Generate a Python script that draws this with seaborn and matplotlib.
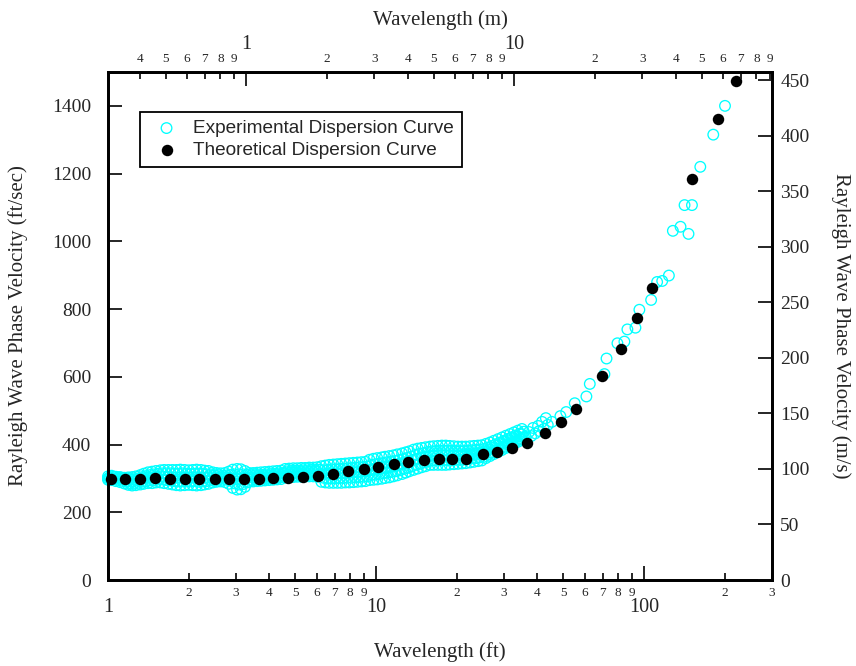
import numpy as np
import pandas as pd
import matplotlib
matplotlib.use('Agg')
import matplotlib.pyplot as plt
import matplotlib.ticker as ticker
import seaborn as sns

# Experimental dispersion curve: dense band at short wavelengths, read as
# several traces across the band (set A and set B sit between each other)
exp_band_wl = [1.00, 1.03, 1.07, 1.11, 1.15, 1.19, 1.23, 1.27, 1.32, 1.36,
               1.41, 1.46, 1.51, 1.57, 1.62, 1.68, 1.74, 1.80, 1.86, 1.93,
               2.00, 2.07, 2.14, 2.22, 2.29, 2.37, 2.46, 2.54, 2.63, 2.73,
               2.82, 2.92, 3.03, 3.13, 3.24, 3.36, 3.48, 3.60, 3.72, 3.85,
               3.99, 4.13, 4.27, 4.42, 4.58, 4.74, 4.91, 5.08, 5.26, 5.44,
               5.63, 5.83, 6.03, 6.25, 6.47, 6.69, 6.93, 7.17, 7.42, 7.68,
               7.95, 8.23, 8.52, 8.82, 9.13, 9.45, 9.78, 10.1, 10.5, 10.8,
               11.2, 11.6, 12.0, 12.5, 12.9, 13.3, 13.8, 14.3, 14.8, 15.3,
               15.9, 16.4, 17.0, 17.6, 18.2, 18.8, 19.5, 20.2, 20.9, 21.6,
               22.4, 23.2, 24.0, 24.8, 25.7, 26.6, 27.5, 28.5, 29.5, 30.5,
               31.6, 32.7, 33.8, 35.0]
exp_band_upper = [306, 308, 305, 304, 302, 303, 304, 306, 310, 314,
                  318, 320, 322, 324, 325, 325, 325, 325, 326, 325,
                  324, 325, 326, 325, 323, 322, 318, 316, 315, 316,
                  320, 326, 328, 327, 322, 316, 316, 317, 318, 319,
                  320, 321, 322, 323, 328, 329, 330, 330, 331, 331,
                  332, 332, 333, 336, 338, 340, 341, 342, 343, 344,
                  345, 346, 347, 348, 349, 355, 358, 360, 362, 364,
                  366, 368, 371, 374, 377, 380, 385, 388, 390, 392,
                  394, 395, 396, 397, 397, 396, 395, 394, 394, 394,
                  395, 396, 397, 398, 402, 406, 411, 416, 421, 426,
                  431, 436, 441, 446]
exp_band_mid = [300, 301, 300, 298, 296, 292, 292, 294, 297, 300,
                302, 303, 305, 306, 305, 304, 303, 302, 303, 302,
                302, 303, 302, 302, 302, 303, 303, 303, 302, 302,
                302, 299, 297, 298, 300, 303, 303, 304, 305, 306,
                307, 308, 309, 310, 315, 316, 317, 317, 318, 318,
                319, 319, 319, 313, 313, 314, 314, 315, 315, 316,
                317, 318, 319, 320, 321, 325, 327, 329, 331, 333,
                335, 337, 340, 343, 346, 349, 355, 358, 361, 364,
                366, 367, 368, 368, 368, 368, 368, 368, 369, 370,
                371, 372, 374, 376, 381, 386, 391, 397, 402, 408,
                413, 419, 424, 430]
exp_band_lower = [296, 295, 292, 289, 285, 281, 279, 280, 282, 284,
                  286, 286, 288, 288, 286, 284, 282, 280, 279, 280,
                  281, 280, 279, 280, 282, 284, 288, 290, 291, 289,
                  284, 272, 267, 268, 275, 290, 291, 292, 293, 294,
                  295, 296, 297, 298, 303, 304, 304, 305, 305, 306,
                  306, 306, 305, 290, 288, 287, 287, 287, 287, 288,
                  288, 289, 290, 291, 292, 295, 296, 297, 299, 301,
                  303, 306, 309, 313, 317, 321, 325, 329, 333, 336,
                  340, 340, 340, 340, 340, 341, 342, 343, 344, 345,
                  347, 349, 351, 353, 360, 366, 372, 378, 384, 390,
                  396, 402, 408, 414]

exp_band_wl_b = [1.015, 1.05, 1.09, 1.13, 1.17, 1.21, 1.25, 1.295, 1.34, 1.385,
                 1.435, 1.485, 1.54, 1.595, 1.65, 1.71, 1.77, 1.83, 1.895, 1.965,
                 2.035, 2.105, 2.18, 2.255, 2.33, 2.415, 2.50, 2.585, 2.68, 2.775,
                 2.87, 2.975, 3.08, 3.185, 3.30, 3.42, 3.54, 3.66, 3.785, 3.92,
                 4.06, 4.20, 4.345, 4.50, 4.66, 4.825, 4.995, 5.17, 5.35, 5.535,
                 5.73, 5.93, 6.14, 6.36, 6.58, 6.81, 7.05, 7.295, 7.55, 7.815,
                 8.09, 8.375, 8.67, 8.975, 9.29, 9.615, 9.94, 10.3, 10.65, 11.0,
                 11.4, 11.8, 12.25, 12.7, 13.1, 13.55, 14.05, 14.55, 15.05, 15.6,
                 16.15, 16.7, 17.3, 17.9, 18.5, 19.15, 19.85, 20.55, 21.25, 22.0,
                 22.8, 23.6, 24.4, 25.25, 26.15, 27.05, 28.0, 29.0, 30.0, 31.05,
                 32.15, 33.25, 34.4, 35.6]
exp_band_upper_b = [303, 305, 303, 301, 299, 298, 298, 300, 304, 307,
                    310, 312, 314, 315, 315, 315, 314, 314, 315, 314,
                    313, 314, 314, 314, 312, 312, 310, 310, 308, 309,
                    311, 312, 312, 312, 311, 310, 310, 310, 311, 312,
                    313, 314, 315, 316, 321, 322, 323, 323, 324, 324,
                    325, 325, 326, 324, 325, 327, 327, 328, 329, 330,
                    331, 332, 333, 334, 335, 340, 342, 344, 346, 348,
                    350, 352, 355, 358, 361, 364, 370, 373, 375, 378,
                    380, 381, 382, 382, 382, 382, 381, 381, 381, 382,
                    383, 384, 385, 387, 391, 396, 401, 406, 411, 417,
                    422, 427, 432, 438]
exp_band_lower_b = [298, 298, 296, 293, 290, 286, 285, 287, 290, 292,
                    294, 294, 297, 297, 295, 294, 292, 291, 291, 291,
                    291, 292, 290, 291, 292, 294, 296, 296, 296, 296,
                    293, 285, 282, 283, 288, 296, 297, 298, 299, 300,
                    301, 302, 303, 304, 309, 310, 310, 311, 311, 312,
                    312, 312, 312, 302, 300, 300, 300, 301, 301, 302,
                    302, 303, 304, 305, 306, 310, 311, 313, 315, 317,
                    319, 321, 324, 328, 331, 335, 340, 343, 347, 350,
                    353, 353, 354, 354, 354, 354, 355, 355, 356, 357,
                    359, 360, 362, 364, 370, 376, 381, 387, 393, 399,
                    404, 410, 416, 422]

# Experimental dispersion curve: scattered points at long wavelengths
exp_tail_wl = [36.2, 37.2, 37.9, 38.5, 39.25, 40.2, 40.6, 41.6, 42.2, 43.0,
               43.7, 45.3, 48.7, 51.2, 55.1, 60.9, 62.7, 71.1, 72.4, 79.5,
               84.4, 86.6, 92.8, 96.0, 106.2, 111.8, 116.8, 123.7, 128.0, 136.7,
               141.5, 146.4, 150.8, 162.0, 181.1, 200.3]
exp_tail_vel = [422, 437, 425, 449, 433, 455, 440, 467, 446, 478,
                458, 467, 484, 496, 522, 542, 579, 608, 654, 699,
                704, 740, 745, 798, 827, 880, 883, 899, 1031, 1043,
                1107, 1022, 1107, 1220, 1315, 1400]

# Theoretical dispersion curve
theo_wl = [1.03, 1.16, 1.32, 1.50, 1.70, 1.94, 2.19, 2.50, 2.83, 3.22,
           3.65, 4.14, 4.70, 5.33, 6.06, 6.90, 7.85, 8.98, 10.2, 11.7,
           13.2, 15.1, 17.1, 19.2, 21.6, 25.0, 28.3, 32.2, 36.6, 42.7,
           48.8, 55.8, 69.7, 81.7, 94.2, 106.7, 151.1, 187.9, 220.8]
theo_vel = [299, 299, 299, 300, 299, 299, 299, 299, 299, 299,
            299, 302, 302, 304, 308, 314, 321, 327, 335, 343,
            347, 353, 356, 356, 357, 372, 379, 391, 406, 434,
            467, 506, 603, 683, 773, 862, 1183, 1360, 1474]

FT_PER_M = 3.2808
x_min, x_max = 1.0, 300.0
y_max = 1500.0

exp_df = pd.DataFrame({
    'wl': exp_band_wl * 3 + exp_band_wl_b * 2 + exp_tail_wl,
    'vel': (exp_band_upper + exp_band_mid + exp_band_lower
            + exp_band_upper_b + exp_band_lower_b + exp_tail_vel),
})
theo_df = pd.DataFrame({'wl': theo_wl, 'vel': theo_vel})

sns.set_style('white')
plt.rcParams['font.family'] = ['Liberation Serif', 'DejaVu Serif']

fig = plt.figure(figsize=(8.56, 6.66), dpi=100)
ax = fig.add_axes([0.1262, 0.1291, 0.7757, 0.7628])

sns.scatterplot(data=exp_df, x='wl', y='vel', marker='o', s=58,
                facecolor='none', edgecolor='#00FFFF', linewidth=0.95,
                label='Experimental Dispersion Curve', clip_on=False, zorder=2, ax=ax)
sns.scatterplot(data=theo_df, x='wl', y='vel', marker='o', s=68,
                facecolor='black', edgecolor='black', linewidth=0,
                label='Theoretical Dispersion Curve', clip_on=False, zorder=3, ax=ax)

ax.set_xscale('log')
ax.set_xlim(x_min, x_max)
ax.set_ylim(0, y_max)


def lead_digit(v, pos):
    return f"{v / 10 ** np.floor(np.log10(v) + 1e-9):.0f}"


def setup_log_x(a, majors):
    a.xaxis.set_major_locator(ticker.FixedLocator(majors))
    a.xaxis.set_major_formatter(ticker.FuncFormatter(lambda v, p: f"{v:g}"))
    a.xaxis.set_minor_locator(ticker.LogLocator(base=10, subs=np.arange(2, 10), numticks=20))
    a.xaxis.set_minor_formatter(ticker.FuncFormatter(lead_digit))
    a.tick_params(axis='x', which='major', direction='in', length=10, width=1.4,
                  labelsize=14.5, pad=13)
    a.tick_params(axis='x', which='minor', direction='in', length=5, width=1.4,
                  labelsize=9.5, pad=5)


setup_log_x(ax, [1, 10, 100])
ax.yaxis.set_major_locator(ticker.MultipleLocator(200))
ax.yaxis.set_minor_locator(ticker.NullLocator())
ax.tick_params(axis='y', which='major', direction='in', length=10, width=1.4,
               labelsize=14, pad=12)

# top axis in metres
ax_top = ax.twiny()
ax_top.set_xscale('log')
ax_top.set_xlim(x_min / FT_PER_M, x_max / FT_PER_M)
setup_log_x(ax_top, [1, 10])

# right axis in m/s
ax_right = ax.twinx()
ax_right.set_ylim(0, y_max / FT_PER_M)
ax_right.yaxis.set_major_locator(ticker.MultipleLocator(50))
ax_right.yaxis.set_minor_locator(ticker.NullLocator())
ax_right.tick_params(axis='y', which='major', direction='in', length=10, width=1.4,
                     labelsize=14, pad=6)

for a in (ax, ax_top, ax_right):
    for sp in a.spines.values():
        sp.set_linewidth(1.8)
        sp.set_color('black')

ax.set_xlabel('Wavelength (ft)', fontsize=15, labelpad=18)
ax.set_ylabel('Rayleigh Wave Phase Velocity (ft/sec)', fontsize=15)
ax.yaxis.set_label_coords(-0.121, 0.5)
ax_top.set_xlabel('Wavelength (m)', fontsize=15, labelpad=7)
ax_right.set_ylabel('Rayleigh Wave Phase Velocity (m/s)', fontsize=15,
                    rotation=270, va='bottom')
ax_right.yaxis.set_label_coords(1.089, 0.5)

leg = ax.legend(loc='upper left', bbox_to_anchor=(0.048, 0.921), borderaxespad=0,
                frameon=True, fancybox=False, framealpha=1, edgecolor='black',
                prop={'family': 'Liberation Sans', 'size': 13.7},
                handletextpad=0.4, labelspacing=0.25, borderpad=0.4, scatterpoints=1)
leg.get_frame().set_linewidth(1.3)

fig.savefig('out.png', dpi=100)
